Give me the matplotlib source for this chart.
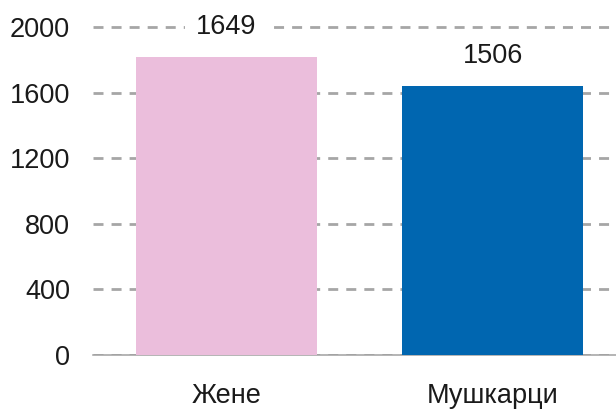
#!/usr/bin/env python3
import matplotlib
matplotlib.use('Agg')
import matplotlib.pyplot as plt

plt.rcParams['font.family'] = ['Liberation Sans', 'DejaVu Sans']
plt.rcParams['lines.scale_dashes'] = False

# data
categories = ['Жене', 'Мушкарци']
bar_heights = [1817, 1640]      # drawn bar heights on the axis scale
value_labels = ['1649', '1506']  # numbers printed above the bars
bar_colors = ['#EBBEDC', '#0066B0']
y_ticks = [0, 400, 800, 1200, 1600, 2000]

fig = plt.figure(figsize=(6.16, 4.13), dpi=100)
ax = fig.add_axes([93 / 616, 58 / 413, 533 / 616, 344.4 / 413])

x = range(len(categories))
bars = ax.bar(x, bar_heights, width=0.68, color=bar_colors, zorder=3)

for bar, lab in zip(bars, value_labels):
    ax.annotate(lab, (bar.get_x() + bar.get_width() / 2, bar.get_height()),
                xytext=(0, 21.6), textcoords='offset points',
                ha='center', va='center', fontsize=19.5, color='#1a1a1a',
                bbox=dict(boxstyle='square,pad=0.4', fc='white', ec='none'),
                zorder=4)

ax.set_xlim(-0.5, 1.5)
ax.set_ylim(0, 2100)
ax.set_xticks(list(x))
ax.set_xticklabels(categories)
ax.set_yticks(y_ticks)
ax.set_yticklabels([str(t) for t in y_ticks])

ax.tick_params(axis='both', length=0, labelsize=19.5, labelcolor='#1a1a1a')
ax.tick_params(axis='y', pad=16.5)
ax.tick_params(axis='x', pad=20.5)

ax.yaxis.grid(True, color='#A6A6A6', linewidth=2.0, linestyle=(0, (7.2, 5.8)), zorder=1)
ax.xaxis.grid(False)
ax.set_axisbelow(True)

for side in ['top', 'right', 'left']:
    ax.spines[side].set_visible(False)
ax.spines['bottom'].set_color('#A0A0A0')
ax.spines['bottom'].set_linewidth(1.1)

fig.savefig('out.png', dpi=100)
plt.close(fig)
